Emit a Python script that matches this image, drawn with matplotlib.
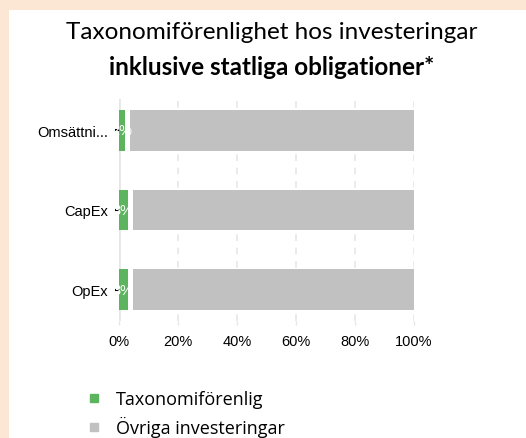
import matplotlib.pyplot as plt
from matplotlib.lines import Line2D
from matplotlib.patches import Rectangle
import numpy as np

# categories and shares (percent of investments)
categories = ["Omsättni...", "CapEx", "OpEx"]
aligned = [2, 3, 3]
other = [98, 97, 97]
value_labels = ["2%", "3%", "3%"]
x_ticks = [0, 20, 40, 60, 80, 100]
series_names = ["Taxonomiförenlig", "Övriga investeringar"]

green = "#5cb45f"
grey = "#c1c1c1"
peach = "#fbe7d4"

fig = plt.figure(figsize=(5.26, 4.39), dpi=100)
fig.patch.set_facecolor(peach)
# white card on the peach background
fig.add_artist(Rectangle((9 / 526, 0), 1, 1 - 11 / 439, transform=fig.transFigure,
                         facecolor="white", edgecolor="none", zorder=0))

fig.text(0.516, 0.925, "Taxonomiförenlighet hos investeringar", ha="center", va="center",
         fontsize=17.5, family="Lato")
fig.text(0.516, 0.847, "inklusive statliga obligationer*", ha="center", va="center",
         fontsize=17.5, family="Lato", fontweight="bold")

ax = fig.add_axes([119 / 526, 1 - 322 / 439, 295 / 526, 222 / 439])
ax.set_facecolor("none")
y = np.arange(len(categories))
gap = 1.7  # white space between the two segments, in percent units

ax.barh(y, aligned, height=0.51, color=green, zorder=3)
ax.barh(y, np.array(other) - gap, left=np.array(aligned) + gap, height=0.51, color=grey, zorder=3)
for yi, a, lab in zip(y, aligned, value_labels):
    ax.text(a / 2, yi, lab, ha="center", va="center", color="white",
            fontsize=10.5, family="Liberation Sans", zorder=4)

ax.set_xlim(0, 100)
ax.set_ylim(len(categories) - 1 + 0.39, -0.39)
ax.set_yticks(y)
ax.set_yticklabels(categories, family="Liberation Sans", fontsize=10.5)
ax.set_xticks(x_ticks)
ax.set_xticklabels([f"{t}%" for t in x_ticks], family="Liberation Sans", fontsize=10.5)
ax.tick_params(axis="y", length=3, width=1.5, color="black", pad=5)
ax.tick_params(axis="x", length=3, width=1, color="#e6e6e6", pad=6)
for s in ax.spines.values():
    s.set_visible(False)
ax.axvline(0, color="#e6e6e6", lw=2, zorder=1)
for t in x_ticks[1:]:
    ax.axvline(t, color="#e6e6e6", lw=1.2, ls=(0, (4, 4)), zorder=1)

handles = [Line2D([], [], marker="s", ls="none", color=c, markersize=6) for c in (green, grey)]
fig.legend(handles, series_names, loc="upper left", bbox_to_anchor=(78 / 526, 1 - 386 / 439),
           frameon=False, prop={"family": "Open Sans", "size": 13}, handletextpad=0.6,
           labelspacing=0.42, handlelength=1.2, borderaxespad=0, borderpad=0.3)

fig.savefig("out.png", dpi=100, facecolor=fig.get_facecolor())
